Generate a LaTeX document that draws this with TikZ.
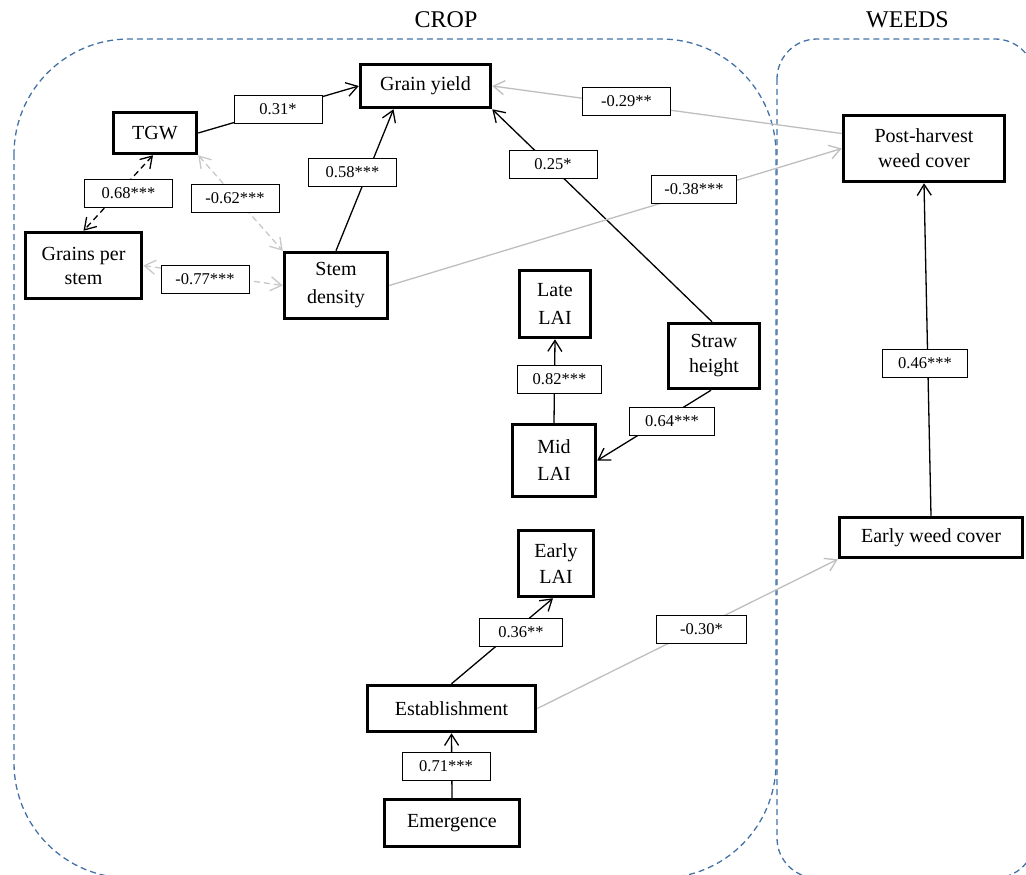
\documentclass[tikz,border=0pt]{standalone}
\usepackage{fontspec}
\setmainfont{Liberation Serif}
\usetikzlibrary{arrows.meta}
\definecolor{bord}{RGB}{68,114,166}
\definecolor{gline}{RGB}{190,190,190}
\definecolor{gdash}{RGB}{200,200,200}
\begin{document}
\begin{tikzpicture}[x=1pt,y=-1pt,
  var/.style={draw,line width=3.5pt,inner sep=0pt,align=center,font=\fontsize{20}{27}\selectfont},
  lab/.style={draw,line width=1pt,fill=white,inner sep=0pt,minimum width=88pt,minimum height=28pt,font=\fontsize{16.5}{20}\selectfont},
  grp/.style={draw=bord,line width=1.3pt,dash pattern=on 6pt off 4pt},
  conn/.style={line width=1.3pt,-{Straight Barb[length=11pt,width=14pt]}},
  conng/.style={conn,draw=gline},
  bidash/.style={line width=1.3pt,dash pattern=on 6pt off 4pt,{Straight Barb[length=11pt,width=14pt]}-{Straight Barb[length=11pt,width=14pt]}},
  title/.style={font=\fontsize{24}{28}\selectfont}
]
\useasboundingbox (0,0) rectangle (1026,875);
\clip (0,0) rectangle (1026,875);

% groups
\draw[grp,rounded corners=115pt] (14,39) rectangle (776,878);
\draw[grp,rounded corners=40pt] (777,39) rectangle (1035,878);
\node[title] (crop) at (446,20) {CROP};
\node[title] (weeds) at (907.5,20) {WEEDS};

% variables
\node[var,minimum width=130pt,minimum height=43pt] (gy) at (425.5,86) {Grain yield};
\node[var,minimum width=83pt,minimum height=41pt] (tgw) at (155,133) {TGW};
\node[var,minimum width=116pt,minimum height=66pt,font=\fontsize{20}{24}\selectfont] (gps) at (83.5,265.5) {Grains per\\stem};
\node[var,minimum width=103pt,minimum height=66pt,font=\fontsize{20}{28}\selectfont] (sd) at (336,285.5) {Stem\\density};
\node[var,minimum width=161pt,minimum height=66pt,font=\fontsize{20}{25}\selectfont] (ph) at (924,148.5) {Post-harvest\\weed cover};
\node[var,minimum width=71pt,minimum height=67pt,font=\fontsize{20}{28}\selectfont] (late) at (555,304) {Late\\LAI};
\node[var,minimum width=91pt,minimum height=65pt,font=\fontsize{20}{25}\selectfont] (sh) at (714,356) {Straw\\height};
\node[var,minimum width=83pt,minimum height=72pt] (mid) at (554,460.5) {Mid\\LAI};
\node[var,minimum width=75pt,minimum height=66pt,font=\fontsize{20}{26}\selectfont] (early) at (556,563.5) {Early\\LAI};
\node[var,minimum width=183pt,minimum height=40pt] (ewc) at (931,537.5) {Early weed cover};
\node[var,minimum width=168pt,minimum height=46pt] (est) at (451.5,708.5) {Establishment};
\node[var,minimum width=135pt,minimum height=47pt] (em) at (452,823) {Emergence};

% connectors
\draw[conn] (tgw.east) -- (gy.west);
\draw[conn] (sd.north) -- ([xshift=-32pt]gy.south);
\draw[conn] ([xshift=-2pt]sh.north) -- (gy.south east);
\draw[conng] ([yshift=15pt]ph.west) -- (gy.east);
\draw[conng] (sd.east) -- (ph.west);
\draw[bidash] ([xshift=-2pt]tgw.south) -- (gps.north);
\draw[bidash,draw=gdash] (tgw.south east) -- (sd.north west);
\draw[bidash,draw=gdash] (gps.east) -- (sd.west);
\draw[conn] (mid.north) -- (late.south);
\draw[conn] ([xshift=-3pt]sh.south) -- (mid.east);
\draw[conn] (est.north) -- ([xshift=-3pt]early.south);
\draw[conng] (est.east) -- (ewc.south west);
\draw[conn] (em.north) -- (est.south);
\draw[conn] (ewc.north) -- (ph.south);

% coefficient labels
\node[lab] (l31) at (278,109.5) {0.31*};
\node[lab] (l68) at (128.5,193) {0.68***};
\node[lab] (l62) at (235,198.5) {-0.62***};
\node[lab] (l58) at (352.5,172) {0.58***};
\node[lab] (l77) at (205,279.5) {-0.77***};
\node[lab] (l29) at (626.5,101.5) {-0.29**};
\node[lab] (l25) at (553,164.5) {0.25*};
\node[lab,minimum width=85pt] (l38) at (694,189) {-0.38***};
\node[lab,minimum width=84pt] (l82) at (559.5,379) {0.82***};
\node[lab,minimum width=85pt] (l64) at (672,421) {0.64***};
\node[lab,minimum width=83pt] (l36) at (521,632) {0.36**};
\node[lab,minimum width=90pt] (l30) at (701.5,629.5) {-0.30*};
\node[lab] (l71) at (446,766.5) {0.71***};
\node[lab,minimum width=85pt] (l46) at (925,363.5) {0.46***};
\end{tikzpicture}
\end{document}
